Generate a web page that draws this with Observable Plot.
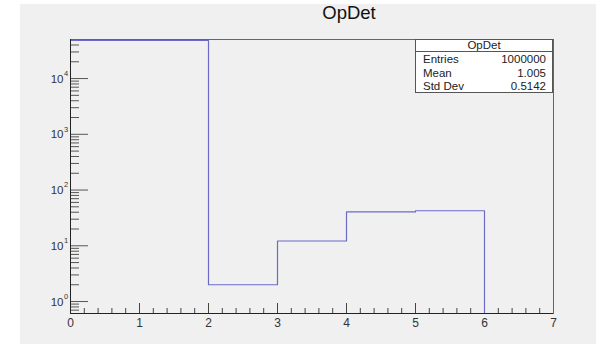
<!DOCTYPE html>
<html>
<head>
<meta charset="utf-8">
<script src="https://cdn.jsdelivr.net/npm/d3@7"></script>
<script src="https://cdn.jsdelivr.net/npm/@observablehq/plot@0.6"></script>
<style>
  html, body { margin: 0; padding: 0; background: #ffffff; }
  #canvas { position: relative; width: 596px; height: 344px; overflow: hidden;
            font-family: "Liberation Sans", Arial, Helvetica, sans-serif; }
  #pad { position: absolute; left: 20px; top: 4px; right: 0; bottom: 0; background: #f0f0f0; }
  #chart { position: absolute; left: 0; top: 0; }
  #title { position: absolute; left: 349px; top: 2px; transform: translateX(-50%);
           font-size: 18.5px; color: #111; white-space: nowrap; }
  #stats { position: absolute; left: 415px; top: 39px; width: 138px; height: 54px;
           background: #ffffff; border: 1px solid #555; box-sizing: border-box;
           font-size: 11.5px; color: #222; }
  #stats .head { height: 11px; line-height: 11px; text-align: center; border-bottom: 1px solid #555; }
  #stats .row { display: flex; justify-content: space-between; padding: 0 6px 0 7px;
                height: 13.7px; line-height: 14px; }
</style>
</head>
<body>
<div id="canvas">
  <div id="pad"></div>
  <div id="chart"></div>
  <div id="title"></div>
  <div id="stats"></div>
</div>
<script>
// Histogram "OpDet": bin edges and contents
const binEdges = [0, 1, 2, 3, 4, 5, 6];
const binCounts = [48200, 48200, 2.0, 12.2, 40.5, 42.5];

// Statistics box entries
const histName = "OpDet";
const statLabels = ["Entries", "Mean", "Std Dev"];
const statValues = ["1000000", "1.005", "0.5142"];

// Axis ticks
const xTickValues = [0, 1, 2, 3, 4, 5, 6, 7];
const yDecades = [0, 1, 2, 3, 4];
const yDomain = [0.61, 50200];

// minor ticks: fifths on x, 2..9 × decade on y
const xMinor = d3.range(0, 7.0001, 0.2).filter(v => Math.abs(v - Math.round(v)) > 1e-6);
const yMinor = [];
for (let e = -1; e <= 4; e++) for (let m = 2; m <= 9; m++) {
  const v = m * Math.pow(10, e);
  if (v >= yDomain[0] && v <= yDomain[1]) yMinor.push(v);
}
const yMajor = yDecades.map(e => Math.pow(10, e));

// Outline of the histogram as a step path along the bin edges
const outline = binCounts.map((c, i) => ({x: binEdges[i], y: c}));
outline.push({x: binEdges[binEdges.length - 1], y: yDomain[0]});

const font = "Liberation Sans, Arial, Helvetica, sans-serif";

const chart = Plot.plot({
  width: 596,
  height: 344,
  marginLeft: 70,
  marginRight: 43,
  marginTop: 39,
  marginBottom: 31,
  style: {background: "transparent", fontFamily: font, color: "#222"},
  x: {domain: [0, 7]},
  y: {type: "log", domain: yDomain},
  marks: [
    Plot.axisY({ticks: yMinor, tickSize: -9, tickFormat: () => "", label: null, stroke: "#555"}),
    Plot.axisY({ticks: yMajor, tickSize: -18, tickFormat: () => "", label: null, stroke: "#555"}),
    Plot.axisX({ticks: xMinor, tickSize: -5, tickFormat: () => "", label: null, stroke: "#444"}),
    Plot.axisX({ticks: xTickValues, tickSize: -10, tickFormat: () => "", label: null, stroke: "#444"}),
    Plot.axisX({ticks: xTickValues, tickSize: 0, tickPadding: 5, tickFormat: d => String(d),
                fontSize: 12, label: null, fill: "#333"}),
    Plot.text(yDecades, {y: d => Math.pow(10, d), frameAnchor: "left", text: () => "10",
                         textAnchor: "end", dx: -7, dy: 0.5, fontSize: 11.5, fill: "#333"}),
    Plot.text(yDecades, {y: d => Math.pow(10, d), frameAnchor: "left", text: d => String(d),
                         textAnchor: "start", dx: -6.5, dy: -5, fontSize: 7.5, fill: "#333"}),
    Plot.line(outline, {x: "x", y: "y", curve: "step-after", stroke: "#6b6bc6", strokeWidth: 1.2}),
    Plot.frame({stroke: "#666"}),
    Plot.ruleX([0], {stroke: "#222"}),
    Plot.ruleY([yDomain[0]], {stroke: "#222"})
  ]
});
document.getElementById("chart").appendChild(chart);

document.getElementById("title").textContent = histName;
const stats = document.getElementById("stats");
const head = document.createElement("div");
head.className = "head";
head.textContent = histName;
stats.appendChild(head);
statLabels.forEach((lab, i) => {
  const row = document.createElement("div");
  row.className = "row";
  const a = document.createElement("span"); a.textContent = lab;
  const b = document.createElement("span"); b.textContent = statValues[i];
  row.appendChild(a); row.appendChild(b);
  stats.appendChild(row);
});
</script>
</body>
</html>
